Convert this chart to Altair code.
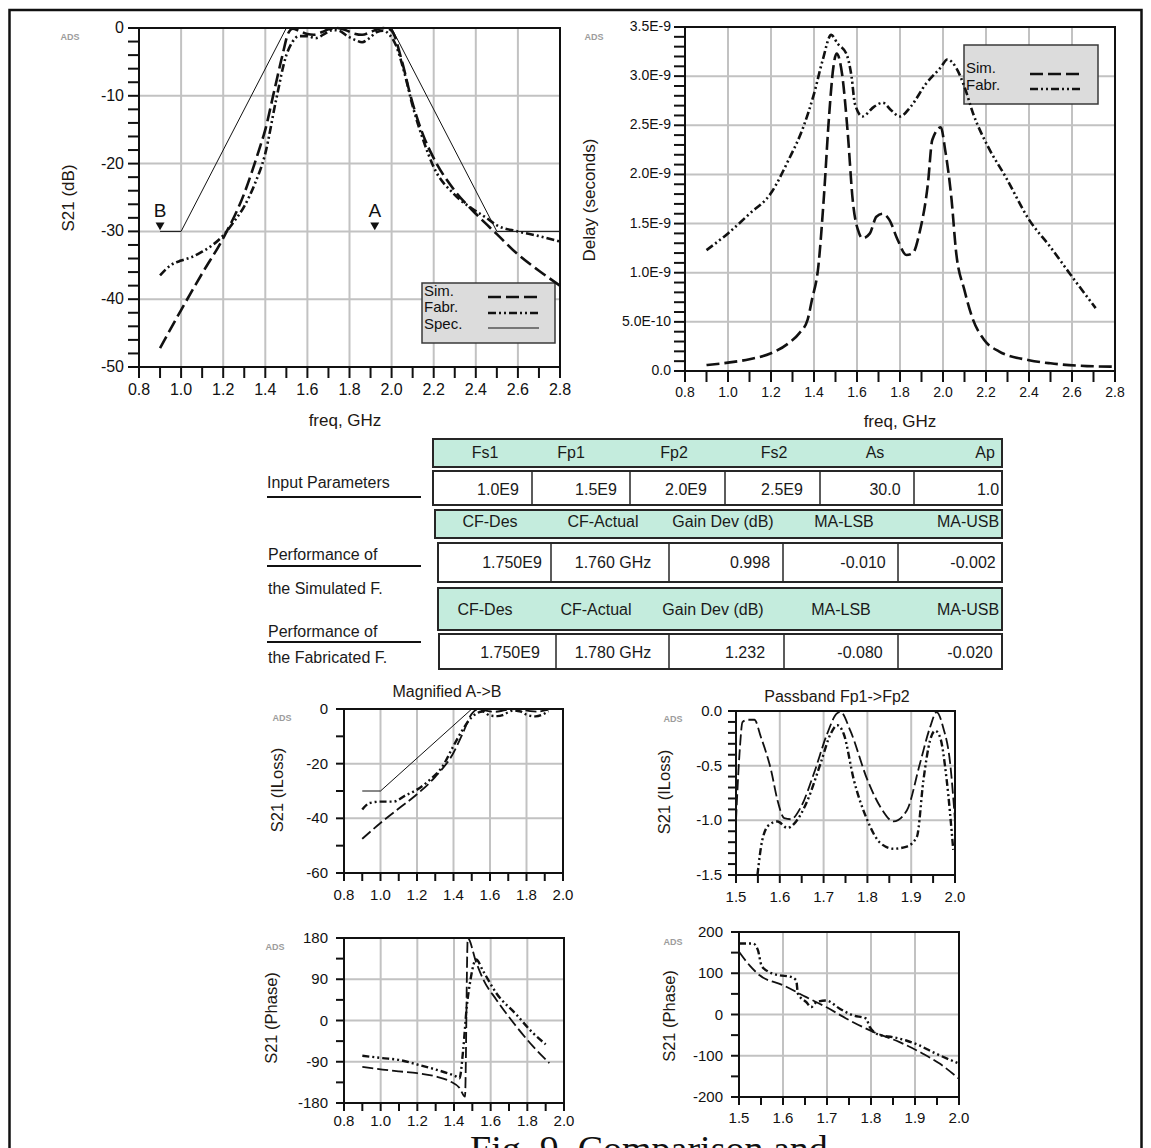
import altair as alt
import pandas as pd

# =============================== DATA ===============================
# Top-left panel: S21 (dB) vs freq (GHz)
s21_sim_f = [0.90, 1.00, 1.10, 1.20, 1.30, 1.37, 1.40, 1.44, 1.48, 1.51, 1.53, 1.56, 1.60, 1.63, 1.67, 1.70, 1.74,
             1.78, 1.82, 1.86, 1.90, 1.94, 1.97, 2.00, 2.05, 2.09, 2.15, 2.20, 2.30, 2.40, 2.50, 2.60, 2.70, 2.80]
s21_sim_db = [-47.2, -41.6, -36.2, -31.0, -24.4, -18.0, -15.0, -9.6, -4.2, -0.7, -0.1, -0.4, -0.9, -1.0, -0.6, -0.2, 0.0,
              -0.3, -0.8, -1.0, -0.6, -0.1, 0.0, -0.4, -5.0, -10.0, -15.8, -19.2, -24.0, -27.4, -30.4, -33.4, -35.8, -38.0]
s21_fab_f = [0.90, 0.95, 1.00, 1.05, 1.10, 1.15, 1.20, 1.25, 1.30, 1.35, 1.40, 1.45, 1.50, 1.53, 1.56, 1.60, 1.64, 1.68,
             1.72, 1.75, 1.79, 1.83, 1.86, 1.89, 1.93, 1.96, 1.99, 2.02, 2.06, 2.10, 2.15, 2.20, 2.30, 2.40, 2.45, 2.50,
             2.60, 2.70, 2.80]
s21_fab_db = [-36.5, -35.0, -34.3, -33.8, -33.0, -32.0, -30.6, -28.6, -26.3, -23.0, -18.5, -10.8, -4.0, -2.0, -1.2, -1.2,
              -1.5, -0.9, -0.3, -0.4, -1.2, -1.8, -2.1, -1.6, -0.6, -0.4, -1.0, -2.5, -6.5, -11.5, -16.5, -20.5, -24.6,
              -27.0, -28.0, -29.1, -30.0, -30.7, -31.5]
spec_f = [0.9, 1.0, 1.5, 2.0, 2.5, 2.8]
spec_db = [-30, -30, 0, 0, -30, -30]
marker_f = [0.9, 1.92]
marker_db = [-30, -30]
marker_lbl = ["B", "A"]

# Top-right panel: group delay (read in ns, converted to seconds below)
delay_sim_f = [0.90, 1.00, 1.10, 1.20, 1.28, 1.33, 1.37, 1.39, 1.42, 1.445, 1.47, 1.49, 1.505, 1.53, 1.557, 1.58, 1.61,
               1.625, 1.66, 1.69, 1.72, 1.75, 1.79, 1.83, 1.86, 1.89, 1.93, 1.95, 1.99, 2.01, 2.04, 2.06, 2.10, 2.14,
               2.19, 2.26, 2.40, 2.50, 2.67, 2.80]
delay_sim_ns = [0.061, 0.085, 0.12, 0.18, 0.28, 0.38, 0.52, 0.72, 1.06, 1.74, 2.59, 3.09, 3.23, 3.03, 2.42, 1.74, 1.40,
                1.35, 1.40, 1.57, 1.60, 1.54, 1.33, 1.18, 1.20, 1.40, 1.91, 2.35, 2.48, 2.25, 1.74, 1.23, 0.82, 0.52,
                0.32, 0.20, 0.11, 0.078, 0.05, 0.044]
delay_fab_f = [0.90, 1.00, 1.10, 1.20, 1.28, 1.35, 1.40, 1.44, 1.48, 1.51, 1.55, 1.575, 1.59, 1.625, 1.68, 1.72, 1.76,
               1.80, 1.85, 1.92, 1.99, 2.02, 2.06, 2.10, 2.14, 2.21, 2.29, 2.40, 2.50, 2.59, 2.71]
delay_fab_ns = [1.23, 1.40, 1.60, 1.81, 2.14, 2.48, 2.82, 3.16, 3.42, 3.33, 3.23, 2.99, 2.72, 2.59, 2.69, 2.73, 2.65,
                2.59, 2.69, 2.92, 3.09, 3.17, 3.09, 2.89, 2.62, 2.28, 1.98, 1.54, 1.26, 0.99, 0.64]

# Magnified A->B (ILoss)
mag_sim_f = [0.90, 1.00, 1.10, 1.20, 1.30, 1.40, 1.45, 1.50, 1.53, 1.56, 1.60, 1.63, 1.67, 1.70, 1.74, 1.78, 1.82, 1.86,
             1.90, 1.92]
mag_sim_db = [-47.5, -41.7, -36.4, -31.2, -24.8, -16.0, -9.0, -1.8, -0.2, -0.4, -0.9, -1.0, -0.6, -0.2, 0.0, -0.3, -0.8,
              -1.0, -0.5, -0.2]
mag_fab_f = [0.90, 0.94, 1.00, 1.07, 1.14, 1.20, 1.27, 1.34, 1.40, 1.45, 1.50, 1.53, 1.56, 1.60, 1.64, 1.67, 1.70, 1.73,
             1.77, 1.80, 1.85, 1.89, 1.92]
mag_fab_db = [-36.8, -34.4, -33.9, -33.9, -31.5, -29.5, -25.9, -21.0, -13.5, -7.6, -3.0, -1.5, -0.9, -2.4, -2.6, -2.2,
              -1.2, -0.5, -1.0, -2.1, -2.7, -2.0, -0.8]
mag_spec_f = [0.9, 1.0, 1.5, 1.92]
mag_spec_db = [-30, -30, 0, 0]

# Passband Fp1->Fp2 (ILoss)
pb_sim_f = [1.500, 1.508, 1.515, 1.528, 1.542, 1.557, 1.580, 1.595, 1.610, 1.625, 1.648, 1.678, 1.708, 1.731, 1.739,
            1.761, 1.800, 1.830, 1.860, 1.890, 1.920, 1.943, 1.958, 1.973, 1.989, 2.000]
pb_sim_db = [-1.00, -0.39, -0.10, -0.08, -0.08, -0.24, -0.54, -0.82, -0.98, -0.99, -0.88, -0.57, -0.21, -0.02, -0.01,
             -0.18, -0.63, -0.88, -1.01, -0.91, -0.48, -0.15, -0.01, -0.15, -0.48, -1.00]
pb_fab_f = [1.549, 1.560, 1.576, 1.595, 1.617, 1.633, 1.663, 1.693, 1.716, 1.731, 1.746, 1.769, 1.800, 1.830, 1.860,
            1.890, 1.913, 1.928, 1.943, 1.955, 1.966, 1.981, 1.996]
pb_fab_db = [-1.50, -1.18, -1.04, -1.01, -1.07, -1.03, -0.82, -0.48, -0.21, -0.13, -0.21, -0.63, -1.00, -1.21, -1.26,
             -1.24, -1.15, -0.63, -0.27, -0.18, -0.24, -0.63, -1.27]

# Phase, wide span
ph1_sim_f = [0.90, 1.01, 1.10, 1.20, 1.30, 1.38, 1.43, 1.46, 1.475, 1.52, 1.56, 1.63, 1.74, 1.83, 1.92]
ph1_sim_deg = [-101, -107, -111, -115, -122, -133, -147, -166, 180, 128, 89, 46, -13, -56, -93]
ph1_fab_f = [0.90, 1.01, 1.10, 1.20, 1.30, 1.41, 1.43, 1.45, 1.47, 1.49, 1.52, 1.56, 1.63, 1.74, 1.83, 1.90]
ph1_fab_deg = [-77, -82, -86, -96, -107, -122, -126, -64, 31, 89, 133, 107, 60, 13, -27, -52]

# Phase, passband
ph2_sim_f = [1.500, 1.524, 1.547, 1.600, 1.653, 1.698, 1.751, 1.805, 1.865, 1.918, 1.956, 2.000]
ph2_sim_deg = [152, 119, 95, 71, 42, 18, -14, -42, -67, -95, -119, -156]
ph2_fab_f = [1.500, 1.532, 1.543, 1.551, 1.562, 1.592, 1.615, 1.630, 1.634, 1.653, 1.664, 1.676, 1.698, 1.729, 1.759,
             1.789, 1.797, 1.820, 1.850, 1.880, 1.910, 1.940, 2.000]
ph2_fab_deg = [172, 172, 156, 119, 107, 95, 92, 83, 50, 30, 18, 30, 34, 14, -2, -10, -30, -50, -55, -63, -75, -91, -119]

# Table and other texts
hdr1 = ["Fs1", "Fp1", "Fp2", "Fs2", "As", "Ap"]
row1 = ["1.0E9", "1.5E9", "2.0E9", "2.5E9", "30.0", "1.0"]
hdr2 = ["CF-Des", "CF-Actual", "Gain Dev (dB)", "MA-LSB", "MA-USB"]
row2 = ["1.750E9", "1.760 GHz", "0.998", "-0.010", "-0.002"]
hdr3 = ["CF-Des", "CF-Actual", "Gain Dev (dB)", "MA-LSB", "MA-USB"]
row3 = ["1.750E9", "1.780 GHz", "1.232", "-0.080", "-0.020"]
side_labels = ["Input Parameters", "Performance of", "the Simulated F.", "Performance of", "the Fabricated F."]
legend_labels = ["Sim.", "Fabr.", "Spec."]
panel_titles = ["Magnified A->B", "Passband Fp1->Fp2"]
x_title = "freq, GHz"
y_titles = ["S21 (dB)", "Delay (seconds)", "S21 (ILoss)", "S21 (ILoss)", "S21 (Phase)", "S21 (Phase)"]
caption = "Fig. 9. Comparison and"

# =============================== LAYOUT / STYLE ===============================
W, H = 1135, 1140
M = 8
FONT = "Liberation Sans"
INK = "#111111"
GRID = "#c2c2c2"
TITLE_INK = "#221812"

SIM = dict(strokeDash=[13, 5], strokeWidth=2.6)
FAB = dict(strokeDash=[8, 3, 2, 3, 2, 3], strokeWidth=2.6)
SPEC = dict(strokeWidth=1.0)
SIM_S = dict(strokeDash=[11, 4], strokeWidth=1.8)
FAB_S = dict(strokeDash=[7, 3, 2, 3, 2, 3], strokeWidth=2.4)
SPEC_S = dict(strokeWidth=1.0)


def c(v):
    return v - M


def ticks(a, b, step):
    n = int(round((b - a) / step))
    return [round(a + i * step, 13) + 0.0 for i in range(n + 1)]


def is_major(t, step):
    return abs(t / step - round(t / step)) < 0.01


def f1(t):
    return f"{t + 0.0:.1f}"


def fint(t):
    return f"{int(round(t))}"


def fdelay(t):
    if abs(t) < 1e-12:
        return "0.0"
    if t < 9e-10:
        return f"{t * 1e10:.1f}E-10"
    return f"{t * 1e9:.1f}E-9"


def panel(P):
    x0, x1 = c(P["xpx"][0]), c(P["xpx"][1])
    yb, yt = c(P["ypx"][0]), c(P["ypx"][1])
    xd, yd = P["xdom"], P["ydom"]
    xs = alt.Scale(domain=xd, range=[x0, x1], nice=False, zero=False)
    ys = alt.Scale(domain=yd, range=[yb, yt], nice=False, zero=False)

    def XE(f):
        return alt.X(f, scale=xs, axis=None)

    def YE(f):
        return alt.Y(f, scale=ys, axis=None)

    # grid lines at major ticks
    gx = pd.DataFrame({"t": ticks(xd[0], xd[1], P["xmaj"])})
    gx["lo"], gx["hi"] = yd[0], yd[1]
    gy = pd.DataFrame({"t": ticks(yd[0], yd[1], P["ymaj"])})
    gy["lo"], gy["hi"] = xd[0], xd[1]
    grid = alt.layer(
        alt.Chart(gx).mark_rule(color=GRID, strokeWidth=2).encode(x=XE("t:Q"), y=YE("lo:Q"), y2="hi:Q"),
        alt.Chart(gy).mark_rule(color=GRID, strokeWidth=2).encode(y=YE("t:Q"), x=XE("lo:Q"), x2="hi:Q"),
    )

    layers = []
    for f, v, style, interp in P["curves"]:
        df = pd.DataFrame({"f": f, "v": v})
        layers.append(alt.Chart(df).mark_line(color=INK, interpolate=interp, **style).encode(
            x=XE("f:Q"), y=YE("v:Q")))

    # frame (also acts as the axis lines)
    fr = pd.DataFrame({"a": [xd[0]], "b": [xd[1]], "lo": [yd[0]], "hi": [yd[1]]})
    layers.append(alt.Chart(fr).mark_rect(filled=False, stroke=INK, strokeWidth=2).encode(
        x=XE("a:Q"), x2="b:Q", y=YE("lo:Q"), y2="hi:Q"))

    # ticks
    tk = P["tick"]
    txd = pd.DataFrame({"t": ticks(xd[0], xd[1], P["xmin"])})
    txd["lo"] = yd[0]
    tyd = pd.DataFrame({"t": ticks(yd[0], yd[1], P["ymin"])})
    tyd["lo"] = xd[0]
    layers.append(alt.Chart(txd).mark_rule(color=INK, strokeWidth=2, y2Offset=tk).encode(
        x=XE("t:Q"), y=YE("lo:Q"), y2="lo:Q"))
    layers.append(alt.Chart(tyd).mark_rule(color=INK, strokeWidth=2, x2Offset=-tk).encode(
        y=YE("t:Q"), x=XE("lo:Q"), x2="lo:Q"))

    # tick labels
    xl = pd.DataFrame({"t": [t for t in txd["t"] if is_major(t, P["xmaj"])]})
    xl["lab"] = [P["xfmt"](t) for t in xl["t"]]
    xl["lo"] = yd[0]
    yl = pd.DataFrame({"t": [t for t in tyd["t"] if is_major(t, P["ymaj"])]})
    yl["lab"] = [P["yfmt"](t) for t in yl["t"]]
    yl["lo"] = xd[0]
    layers.append(alt.Chart(xl).mark_text(font=FONT, fontSize=P["ls"], color=INK, align="center", baseline="top",
                                          dy=tk + P["xpad"]).encode(x=XE("t:Q"), y=YE("lo:Q"), text="lab:N"))
    layers.append(alt.Chart(yl).mark_text(font=FONT, fontSize=P["ls"], color=INK, align="right",
                                          baseline="middle", dx=-(tk + P["ypad"])).encode(
        y=YE("t:Q"), x=XE("lo:Q"), text="lab:N"))

    if "extra" in P:
        layers.extend(P["extra"](XE, YE))
    return grid, alt.layer(*layers)


def ab_markers(XE, YE):
    df = pd.DataFrame({"f": marker_f, "v": marker_db, "t": marker_lbl})
    enc = dict(x=XE("f:Q"), y=YE("v:Q"))
    return [
        alt.Chart(df).mark_point(shape="triangle-down", filled=True, size=80, color=INK, opacity=1,
                                 yOffset=-5).encode(**enc),
        alt.Chart(df).mark_text(font=FONT, fontSize=19, color=INK, yOffset=-20).encode(text="t:N", **enc),
    ]


panels = [
    dict(xdom=[0.8, 2.8], xpx=[139, 560], ydom=[-50, 0], ypx=[367, 28], xmin=0.1, xmaj=0.2, ymin=2, ymaj=10,
         xfmt=f1, yfmt=fint, ls=16, tick=11, xpad=4, ypad=4,
         curves=[(spec_f, spec_db, SPEC, "linear"), (s21_sim_f, s21_sim_db, SIM, "monotone"),
                 (s21_fab_f, s21_fab_db, FAB, "monotone")],
         extra=ab_markers),
    dict(xdom=[0.8, 2.8], xpx=[685, 1115], ydom=[0, 3.5e-9], ypx=[371, 27], xmin=0.1, xmaj=0.2, ymin=1e-10,
         ymaj=5e-10, xfmt=f1, yfmt=fdelay, ls=14, tick=11, xpad=4, ypad=3,
         curves=[(delay_sim_f, [v * 1e-9 for v in delay_sim_ns], SIM, "monotone"),
                 (delay_fab_f, [v * 1e-9 for v in delay_fab_ns], FAB, "monotone")]),
    dict(xdom=[0.8, 2.0], xpx=[344, 563], ydom=[-60, 0], ypx=[873, 709], xmin=0.1, xmaj=0.2, ymin=10, ymaj=20,
         xfmt=f1, yfmt=fint, ls=15, tick=8, xpad=7, ypad=8,
         curves=[(mag_spec_f, mag_spec_db, SPEC_S, "linear"), (mag_sim_f, mag_sim_db, SIM_S, "monotone"),
                 (mag_fab_f, mag_fab_db, FAB_S, "monotone")]),
    dict(xdom=[1.5, 2.0], xpx=[736, 955], ydom=[-1.5, 0], ypx=[875, 711], xmin=0.05, xmaj=0.1, ymin=0.1,
         ymaj=0.5, xfmt=f1, yfmt=f1, ls=15, tick=8, xpad=7, ypad=6,
         curves=[(pb_sim_f, pb_sim_db, SIM_S, "monotone"), (pb_fab_f, pb_fab_db, FAB_S, "monotone")]),
    dict(xdom=[0.8, 2.0], xpx=[344, 564], ydom=[-180, 180], ypx=[1103, 938], xmin=0.1, xmaj=0.2, ymin=45,
         ymaj=90, xfmt=f1, yfmt=fint, ls=15, tick=8, xpad=3, ypad=8,
         curves=[(ph1_sim_f, ph1_sim_deg, SIM_S, "monotone"), (ph1_fab_f, ph1_fab_deg, FAB_S, "monotone")]),
    dict(xdom=[1.5, 2.0], xpx=[739, 959], ydom=[-200, 200], ypx=[1097, 932], xmin=0.05, xmaj=0.1, ymin=50,
         ymaj=100, xfmt=f1, yfmt=fint, ls=15, tick=8, xpad=6, ypad=8,
         curves=[(ph2_sim_f, ph2_sim_deg, SIM_S, "monotone"), (ph2_fab_f, ph2_fab_deg, FAB_S, "monotone")]),
]


# ---------- pixel-placed decorations (titles, legends, table) ----------
def PX(name):
    return alt.X(name, scale=None, axis=None)


def PY(name):
    return alt.Y(name, scale=None, axis=None)


def rects(rows, **props):
    df = pd.DataFrame(rows, columns=["x", "x2", "y", "y2"]).astype(float) - M
    return alt.Chart(df).mark_rect(**props).encode(x=PX("x:Q"), x2="x2:Q", y=PY("y:Q"), y2="y2:Q")


def rules(rows, **props):
    df = pd.DataFrame(rows, columns=["x", "x2", "y", "y2"]).astype(float) - M
    return alt.Chart(df).mark_rule(**props).encode(x=PX("x:Q"), x2="x2:Q", y=PY("y:Q"), y2="y2:Q")


def texts(rows, **props):
    df = pd.DataFrame(rows, columns=["x", "y", "t"])
    df["x"] = df["x"] - M
    df["y"] = df["y"] - M
    return alt.Chart(df).mark_text(**props).encode(x=PX("x:Q"), y=PY("y:Q"), text="t:N")


outer = rects([(9.5, 1141.5, 10, 1170)], filled=False, stroke=INK, strokeWidth=2.5)

legend_boxes = rects([(422, 555, 283, 343), (964, 1098, 45, 104)], fill="#dcdcdc", stroke="#3a3a3a",
                     strokeWidth=1.5)
leg_sim = rules([(488, 539, 297, 297), (1030, 1083, 74, 74)], color=INK, **SIM)
leg_fab = rules([(488, 539, 313, 313), (1030, 1083, 89, 89)], color=INK, **FAB)
leg_spec = rules([(488, 539, 328, 328)], color=INK, **SPEC)
leg_txt = texts([(424, 291, legend_labels[0]), (424, 307, legend_labels[1]), (424, 324, legend_labels[2]),
                 (966, 68, legend_labels[0]), (966, 85, legend_labels[1])],
                align="left", baseline="middle", font=FONT, fontSize=15, color=INK)

ads = texts([(70, 37, "ADS"), (594, 37, "ADS"), (282, 718, "ADS"), (673, 719, "ADS"), (275, 947, "ADS"),
             (673, 942, "ADS")], align="center", baseline="middle", font=FONT, fontSize=9, fontWeight="bold",
            color="#9c9c9c")
ptitles = texts([(447, 692, panel_titles[0]), (837, 697, panel_titles[1])], align="center", baseline="middle",
                font=FONT, fontSize=16, color=TITLE_INK)
xtitles = texts([(345, 421, x_title), (900, 422, x_title)], align="center", baseline="middle", font=FONT,
                fontSize=17, color=TITLE_INK)
ytitles_big = texts([(69, 198, y_titles[0]), (590, 200, y_titles[1])], align="center", baseline="middle",
                    font=FONT, fontSize=17, color=TITLE_INK, angle=270)
ytitles_small = texts([(278, 790, y_titles[2]), (665, 792, y_titles[3]), (272, 1018, y_titles[4]),
                       (670, 1016, y_titles[5])], align="center", baseline="middle", font=FONT, fontSize=16.5,
                      color=TITLE_INK, angle=270)

MINT = "#c4ecdd"
tbl_head = rects([(433, 1002, 439, 467), (435, 1002, 510, 538), (438, 1002, 588, 630)], fill=MINT,
                 stroke="#262626", strokeWidth=2)
tbl_rows = rects([(433, 1002, 471, 505), (438, 1002, 543, 582), (439, 1002, 634, 669)], fill="white",
                 stroke="#262626", strokeWidth=2)
div_rows = ([(x, x, 471, 505) for x in [532, 630, 725, 820, 914]]
            + [(x, x, 543, 582) for x in [551, 669, 783, 898]]
            + [(x, x, 634, 669) for x in [556, 669, 784, 898]])
tbl_div = rules(div_rows, color="#262626", strokeWidth=1.5)

cell_txt = []
cell_txt += list(zip([485, 571, 674, 774, 875, 985], [453] * 6, hdr1))
cell_txt += list(zip([498, 596, 686, 782, 885, 988], [490] * 6, row1))
cell_txt += list(zip([490, 603, 723, 844, 968], [522] * 5, hdr2))
cell_txt += list(zip([512, 613, 750, 863, 973], [563] * 5, row2))
cell_txt += list(zip([485, 596, 713, 841, 968], [610] * 5, hdr3))
cell_txt += list(zip([510, 613, 745, 860, 970], [653] * 5, row3))
tbl_txt = texts(cell_txt, align="center", baseline="middle", font=FONT, fontSize=16, color="#1a1a1a")

side_txt = texts(list(zip([267, 268, 268, 268, 268], [483, 555, 589, 632, 658], side_labels)),
                 align="left", baseline="middle", font=FONT, fontSize=16, color="#1a1a1a")
side_lines = rules([(267, 421, 497, 497), (267, 421, 566, 566), (267, 421, 642, 642)], color=INK, strokeWidth=2)

cap = texts([(470, 1162, caption)], align="left", baseline="alphabetic", font="Liberation Serif", fontSize=38,
            color=INK)

grids, mains = [], []
for P in panels:
    g, m = panel(P)
    grids.append(g)
    mains.append(m)

chart = alt.layer(
    outer, *grids, legend_boxes, *mains, leg_sim, leg_fab, leg_spec, leg_txt, ads, ptitles, xtitles,
    ytitles_big, ytitles_small, tbl_head, tbl_rows, tbl_div, tbl_txt, side_txt, side_lines, cap,
).resolve_scale(x="independent", y="independent").properties(
    width=W, height=H, padding=0, autosize=alt.AutoSizeParams(type="none")
).configure_view(strokeWidth=0)

chart.save("out.html", embed_options={"renderer": "svg", "actions": False})
